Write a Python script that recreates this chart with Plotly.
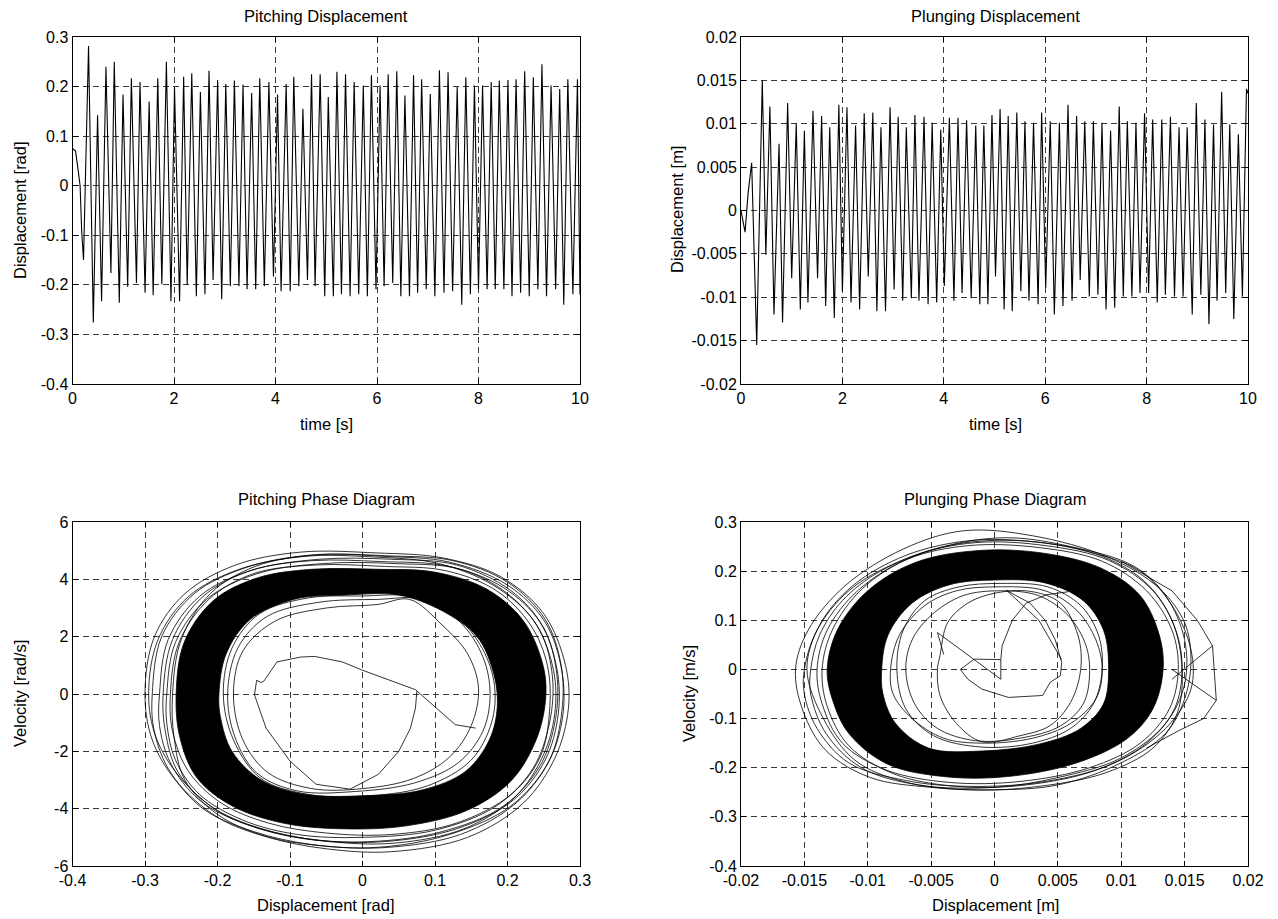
import plotly.graph_objects as go

# ---------------- time series: alternating extrema ----------------
pitch_t = [0.00, 0.06, 0.10, 0.15, 0.18, 0.217, 0.316, 0.41, 0.494, 0.573, 0.659, 0.757, 0.823, 0.922,
           0.995, 1.087, 1.16, 1.26, 1.33, 1.43, 1.51, 1.59, 1.68, 1.76, 1.85, 1.94, 2.01, 2.11,
           2.19, 2.26, 2.35, 2.44, 2.52, 2.61, 2.69, 2.77, 2.86, 2.94, 3.02, 3.11, 3.19, 3.28,
           3.36, 3.44, 3.53, 3.61, 3.69, 3.78, 3.87, 3.96, 4.04, 4.11, 4.21, 4.29, 4.36, 4.46,
           4.54, 4.63, 4.71, 4.78, 4.88, 4.97, 5.04, 5.14, 5.21, 5.30, 5.38, 5.47, 5.55, 5.64,
           5.73, 5.81, 5.89, 5.98, 6.06, 6.14, 6.22, 6.31, 6.39, 6.47, 6.55, 6.64, 6.72, 6.80,
           6.88, 6.97, 7.05, 7.14, 7.23, 7.32, 7.40, 7.49, 7.58, 7.67, 7.75, 7.84, 7.92, 8.00,
           8.08, 8.17, 8.25, 8.33, 8.41, 8.50, 8.58, 8.66, 8.74, 8.83, 8.91, 9.00, 9.08, 9.17,
           9.25, 9.34, 9.43, 9.52, 9.60, 9.68, 9.76, 9.86, 9.95, 10.0]
pitch_disp = [0.075, 0.070, 0.040, 0.000, -0.090, -0.150, 0.282, -0.276, 0.142, -0.233, 0.240, -0.176, 0.250, -0.236,
              0.184, -0.204, 0.217, -0.196, 0.209, -0.216, 0.170, -0.221, 0.217, -0.199, 0.250, -0.233, 0.199, -0.233,
              0.220, -0.200, 0.227, -0.223, 0.189, -0.219, 0.232, -0.190, 0.213, -0.229, 0.205, -0.203, 0.212, -0.203,
              0.204, -0.209, 0.187, -0.209, 0.217, -0.203, 0.209, -0.183, 0.184, -0.213, 0.205, -0.213, 0.220, -0.203,
              0.155, -0.190, 0.225, -0.203, 0.225, -0.223, 0.179, -0.223, 0.230, -0.219, 0.225, -0.223, 0.209, -0.219,
              0.202, -0.223, 0.223, -0.209, 0.202, -0.203, 0.225, -0.196, 0.231, -0.223, 0.182, -0.223, 0.223, -0.216,
              0.215, -0.209, 0.185, -0.223, 0.233, -0.216, 0.229, -0.213, 0.199, -0.240, 0.219, -0.219, 0.202, -0.209,
              0.202, -0.209, 0.209, -0.209, 0.212, -0.209, 0.213, -0.223, 0.215, -0.216, 0.231, -0.223, 0.219, -0.209,
              0.245, -0.223, 0.202, -0.209, 0.195, -0.240, 0.215, -0.219, 0.215, -0.220]

plunge_t = [0.00, 0.08, 0.14, 0.21, 0.31, 0.42, 0.49, 0.57, 0.65, 0.75, 0.82, 0.92, 1.00, 1.09, 1.17, 1.25,
            1.32, 1.42, 1.51, 1.59, 1.67, 1.75, 1.84, 1.93, 2.00, 2.09, 2.17, 2.26, 2.34, 2.43, 2.51, 2.60,
            2.68, 2.76, 2.85, 2.94, 3.02, 3.10, 3.19, 3.26, 3.36, 3.43, 3.51, 3.61, 3.69, 3.77, 3.86, 3.94,
            4.01, 4.11, 4.20, 4.28, 4.36, 4.45, 4.54, 4.63, 4.71, 4.79, 4.87, 4.95, 5.02, 5.11, 5.19, 5.27,
            5.35, 5.44, 5.52, 5.60, 5.68, 5.77, 5.86, 5.93, 6.01, 6.10, 6.18, 6.28, 6.35, 6.45, 6.53, 6.62,
            6.69, 6.78, 6.87, 6.95, 7.04, 7.12, 7.20, 7.29, 7.37, 7.46, 7.54, 7.62, 7.71, 7.79, 7.87, 7.96,
            8.04, 8.12, 8.21, 8.30, 8.37, 8.47, 8.55, 8.64, 8.72, 8.80, 8.90, 8.98, 9.07, 9.15, 9.23, 9.32,
            9.39, 9.48, 9.56, 9.64, 9.72, 9.81, 9.89, 9.97, 10.0]
plunge_disp = [0.0000, -0.0025, 0.0020, 0.0055, -0.0155, 0.0150, -0.0051, 0.0120, -0.0120, 0.0077, -0.0129, 0.0124,
               -0.0078, 0.0100, -0.0114, 0.0092, -0.0106, 0.0115, -0.0078, 0.0109, -0.0110, 0.0096, -0.0124, 0.0122,
               -0.0093, 0.0119, -0.0106, 0.0098, -0.0114, 0.0112, -0.0076, 0.0113, -0.0116, 0.0096, -0.0116, 0.0119,
               -0.0091, 0.0108, -0.0104, 0.0096, -0.0101, 0.0110, -0.0104, 0.0108, -0.0108, 0.0101, -0.0106, 0.0093,
               -0.0087, 0.0107, -0.0104, 0.0107, -0.0095, 0.0104, -0.0101, 0.0098, -0.0108, 0.0098, -0.0108, 0.0110,
               -0.0076, 0.0117, -0.0114, 0.0109, -0.0116, 0.0113, -0.0093, 0.0103, -0.0104, 0.0101, -0.0108, 0.0113,
               -0.0089, 0.0103, -0.0120, 0.0101, -0.0110, 0.0122, -0.0104, 0.0109, -0.0080, 0.0103, -0.0099, 0.0103,
               -0.0097, 0.0101, -0.0114, 0.0092, -0.0112, 0.0120, -0.0099, 0.0103, -0.0099, 0.0101, -0.0095, 0.0112,
               -0.0095, 0.0105, -0.0106, 0.0105, -0.0097, 0.0108, -0.0099, 0.0096, -0.0099, 0.0096, -0.0120, 0.0124,
               -0.0097, 0.0105, -0.0131, 0.0099, -0.0104, 0.0137, -0.0095, 0.0099, -0.0125, 0.0088, -0.0099, 0.0140,
               0.0135]

# ---------------- pitching phase diagram (rad, rad/s) ----------------
pp_env1_x = [-0.300, -0.287, -0.245, -0.175, -0.085, 0.020, 0.110, 0.190, 0.250, 0.280, 0.284, 0.266, 0.222, 0.145, 0.040, -0.050, -0.130, -0.200, -0.258, -0.290, -0.300]
pp_env1_y = [0.0, 2.0, 3.5, 4.5, 4.95, 4.92, 4.75, 4.10, 2.80, 1.00, -0.50, -2.20, -3.80, -5.00, -5.50, -5.40, -5.00, -4.30, -3.00, -1.60, 0.0]
pp_env2_x = [-0.290, -0.277, -0.232, -0.162, -0.070, 0.030, 0.120, 0.200, 0.252, 0.275, 0.276, 0.256, 0.205, 0.120, 0.020, -0.070, -0.150, -0.220, -0.268, -0.288, -0.290]
pp_env2_y = [0.0, 2.0, 3.5, 4.4, 4.85, 4.80, 4.60, 3.80, 2.50, 0.80, -0.80, -2.40, -3.90, -4.90, -5.35, -5.25, -4.80, -4.00, -2.60, -1.20, 0.0]
pp_env3_x = [-0.280, -0.268, -0.225, -0.155, -0.060, 0.040, 0.130, 0.205, 0.250, 0.268, 0.266, 0.245, 0.195, 0.110, 0.010, -0.080, -0.160, -0.225, -0.265, -0.280, -0.280]
pp_env3_y = [0.0, 1.9, 3.4, 4.3, 4.7, 4.70, 4.50, 3.60, 2.30, 0.70, -0.90, -2.50, -3.90, -4.80, -5.15, -5.05, -4.55, -3.70, -2.40, -1.10, 0.0]
pp_env4_x = [-0.270, -0.258, -0.215, -0.145, -0.055, 0.045, 0.135, 0.200, 0.245, 0.262, 0.258, 0.235, 0.185, 0.100, 0.000, -0.090, -0.165, -0.225, -0.258, -0.270, -0.270]
pp_env4_y = [0.0, 1.8, 3.3, 4.2, 4.55, 4.55, 4.35, 3.50, 2.20, 0.60, -1.00, -2.60, -3.90, -4.75, -5.00, -4.90, -4.40, -3.50, -2.30, -1.00, 0.0]
pp_env5_x = [-0.265, -0.253, -0.212, -0.150, -0.065, 0.030, 0.115, 0.185, 0.232, 0.255, 0.258, 0.245, 0.205, 0.130, 0.040, -0.050, -0.130, -0.195, -0.240, -0.262, -0.265]
pp_env5_y = [0.0, 1.8, 3.3, 4.2, 4.5, 4.45, 4.3, 3.6, 2.4, 1.0, -0.6, -2.2, -3.5, -4.5, -4.9, -4.85, -4.5, -3.8, -2.7, -1.3, 0.0]
pp_env6_x = [-0.275, -0.262, -0.220, -0.155, -0.070, 0.025, 0.120, 0.195, 0.245, 0.268, 0.270, 0.252, 0.208, 0.130, 0.030, -0.060, -0.140, -0.210, -0.255, -0.272, -0.275]
pp_env6_y = [0.0, 1.9, 3.4, 4.3, 4.65, 4.62, 4.45, 3.7, 2.5, 0.9, -0.7, -2.3, -3.7, -4.7, -5.15, -5.1, -4.7, -3.9, -2.7, -1.3, 0.0]
pp_env7_x = [-0.262, -0.250, -0.210, -0.148, -0.065, 0.035, 0.125, 0.200, 0.252, 0.274, 0.275, 0.258, 0.212, 0.135, 0.035, -0.055, -0.135, -0.200, -0.245, -0.260, -0.262]
pp_env7_y = [0.0, 1.9, 3.5, 4.45, 4.85, 4.82, 4.65, 3.9, 2.6, 1.0, -0.6, -2.3, -3.8, -4.9, -5.35, -5.3, -4.95, -4.2, -3.0, -1.5, 0.0]
pp_env8_x = [-0.295, -0.282, -0.240, -0.170, -0.080, 0.015, 0.105, 0.180, 0.235, 0.262, 0.266, 0.250, 0.210, 0.140, 0.045, -0.045, -0.125, -0.195, -0.252, -0.285, -0.295]
pp_env8_y = [0.0, 1.9, 3.4, 4.35, 4.8, 4.78, 4.55, 3.8, 2.6, 1.0, -0.5, -2.1, -3.6, -4.7, -5.2, -5.15, -4.8, -4.15, -2.9, -1.5, 0.0]
pp_band_out_x = [-0.257, -0.246, -0.206, -0.145, -0.070, 0.020, 0.100, 0.172, 0.222, 0.248, 0.253, 0.241, 0.206, 0.145, 0.060, -0.030, -0.110, -0.180, -0.229, -0.252, -0.257]
pp_band_out_y = [0.0, 1.8, 3.25, 4.05, 4.35, 4.35, 4.25, 3.65, 2.55, 1.1, 0.0, -1.5, -3.0, -4.05, -4.6, -4.7, -4.5, -3.9, -2.9, -1.50, 0.0]
pp_band_in_x = [-0.198, -0.188, -0.155, -0.095, -0.025, 0.050, 0.110, 0.158, 0.180, 0.186, 0.175, 0.142, 0.082, 0.000, -0.080, -0.140, -0.180, -0.196, -0.198]
pp_band_in_y = [0.0, 1.4, 2.6, 3.3, 3.45, 3.45, 2.9, 2.0, 0.8, -0.4, -1.6, -2.7, -3.35, -3.55, -3.5, -3.00, -2.00, -0.80, 0.0]
pp_in1_x = [-0.178, -0.165, -0.120, -0.050, 0.020, 0.065, 0.110, 0.145, 0.160, 0.150, 0.120, 0.070, 0.000, -0.070, -0.130, -0.165, -0.178]
pp_in1_y = [0.0, 1.5, 2.55, 3.0, 3.12, 3.3, 2.4, 1.4, 0.2, -1.1, -2.2, -2.95, -3.3, -3.3, -2.75, -1.6, 0.0]
pp_in2_x = [-0.186, -0.172, -0.132, -0.060, 0.020, 0.085, 0.135, 0.166, 0.176, 0.166, 0.132, 0.072, -0.010, -0.090, -0.146, -0.176, -0.186]
pp_in2_y = [0.0, 1.6, 2.7, 3.2, 3.3, 3.3, 2.5, 1.3, 0.0, -1.3, -2.4, -3.1, -3.4, -3.38, -2.75, -1.5, 0.0]
pp_in3_x = [-0.192, -0.180, -0.142, -0.075, 0.000, 0.070, 0.125, 0.165, 0.182, 0.178, 0.150, 0.090, 0.010, -0.075, -0.140, -0.178, -0.192]
pp_in3_y = [0.0, 1.6, 2.8, 3.35, 3.42, 3.4, 2.8, 1.6, 0.3, -1.0, -2.3, -3.2, -3.55, -3.5, -2.95, -1.6, 0.0]
pp_tr_x = [0.075, 0.073, 0.066, 0.050, 0.022, -0.017, -0.064, -0.100, -0.133, -0.149, -0.146, -0.140, -0.136, -0.118, -0.085, -0.066, -0.028, 0.000, 0.073, 0.128, 0.156]
pp_tr_y = [0.1, -0.5, -1.2, -2.0, -2.8, -3.32, -3.15, -2.34, -1.19, -0.03, 0.48, 0.40, 0.45, 1.12, 1.29, 1.31, 1.12, 0.83, 0.15, -1.07, -1.19]

# ---------------- plunging phase diagram (m, m/s) ----------------
pl_env1_x = [-0.0157, -0.0147, -0.0118, -0.0072, -0.0025, 0.0030, 0.0090, 0.0130, 0.0150, 0.0155, 0.0150, 0.0135, 0.0100, 0.0050, 0.0000, -0.0050, -0.0098, -0.0133, -0.0151, -0.0157]
pl_env1_y = [0.0, 0.08, 0.17, 0.245, 0.282, 0.272, 0.228, 0.165, 0.095, 0.02, -0.06, -0.13, -0.19, -0.235, -0.245, -0.24, -0.22, -0.165, -0.085, 0.0]
pl_env2_x = [-0.0150, -0.0140, -0.0115, -0.0075, -0.0030, 0.0020, 0.0070, 0.0115, 0.0140, 0.0155, 0.0155, 0.0135, 0.0095, 0.0040, -0.0020, -0.0070, -0.0115, -0.0140, -0.0150, -0.0150]
pl_env2_y = [0.0, 0.08, 0.16, 0.22, 0.255, 0.262, 0.242, 0.20, 0.13, 0.04, -0.04, -0.12, -0.19, -0.228, -0.238, -0.226, -0.19, -0.12, -0.05, 0.0]
pl_env3_x = [-0.0145, -0.0138, -0.0120, -0.0090, -0.0040, 0.0010, 0.0060, 0.0110, 0.0135, 0.0150, 0.0150, 0.0135, 0.0100, 0.0050, 0.0000, -0.0060, -0.0105, -0.0133, -0.0145, -0.0145]
pl_env3_y = [0.0, 0.07, 0.14, 0.20, 0.25, 0.268, 0.25, 0.21, 0.15, 0.06, -0.03, -0.11, -0.18, -0.22, -0.24, -0.235, -0.20, -0.13, -0.05, 0.0]
pl_env4_x = [-0.0140, -0.0132, -0.0108, -0.0068, -0.0020, 0.0035, 0.0085, 0.0120, 0.0140, 0.0145, 0.0138, 0.0115, 0.0075, 0.0020, -0.0035, -0.0085, -0.0120, -0.0136, -0.0140]
pl_env4_y = [0.0, 0.08, 0.16, 0.225, 0.252, 0.248, 0.22, 0.16, 0.08, 0.0, -0.08, -0.15, -0.20, -0.228, -0.23, -0.205, -0.15, -0.07, 0.0]
pl_env5_x = [-0.0136, -0.0128, -0.0104, -0.0064, -0.0015, 0.0040, 0.0090, 0.0125, 0.0143, 0.0148, 0.0142, 0.0120, 0.0080, 0.0025, -0.0030, -0.0080, -0.0115, -0.0132, -0.0136]
pl_env5_y = [0.0, 0.08, 0.165, 0.23, 0.258, 0.252, 0.222, 0.16, 0.08, 0.0, -0.08, -0.15, -0.205, -0.235, -0.238, -0.212, -0.155, -0.075, 0.0]
pl_env6_x = [-0.0148, -0.0138, -0.0112, -0.0070, -0.0020, 0.0030, 0.0080, 0.0118, 0.0140, 0.0148, 0.0144, 0.0125, 0.0088, 0.0035, -0.0020, -0.0072, -0.0110, -0.0135, -0.0148]
pl_env6_y = [0.0, 0.09, 0.17, 0.232, 0.262, 0.26, 0.235, 0.18, 0.10, 0.0, -0.09, -0.16, -0.21, -0.238, -0.245, -0.228, -0.185, -0.10, 0.0]
pl_kink_x = [0.0100, 0.0140, 0.0160, 0.0172, 0.0175, 0.0165, 0.0145, 0.0120, None, 0.0172, 0.0140, None, 0.0175, 0.0140]
pl_kink_y = [0.220, 0.16, 0.10, 0.048, -0.063, -0.10, -0.125, -0.16, None, 0.048, -0.02, None, -0.063, 0.0]
pl_band_out_x = [-0.0132, -0.0124, -0.0100, -0.0062, -0.0012, 0.0040, 0.0085, 0.0115, 0.0130, 0.0133, 0.0125, 0.0105, 0.0065, 0.0010, -0.0040, -0.0085, -0.0115, -0.0128, -0.0132]
pl_band_out_y = [0.0, 0.08, 0.16, 0.218, 0.242, 0.236, 0.205, 0.15, 0.07, 0.0, -0.08, -0.14, -0.19, -0.218, -0.218, -0.192, -0.13, -0.06, 0.0]
pl_band_in_x = [-0.0089, -0.0084, -0.0065, -0.0036, 0.0000, 0.0040, 0.0070, 0.0086, 0.0090, 0.0086, 0.0068, 0.0035, -0.0010, -0.0052, -0.0078, -0.0088, -0.0089]
pl_band_in_y = [0.0, 0.07, 0.135, 0.172, 0.182, 0.176, 0.14, 0.08, 0.0, -0.07, -0.12, -0.152, -0.166, -0.16, -0.11, -0.05, 0.0]
pl_in1_x = [-0.0082, -0.0075, -0.0055, -0.0030, 0.0000, 0.0040, 0.0065, 0.0080, 0.0085, 0.0080, 0.0060, 0.0030, -0.0010, -0.0040, -0.0065, -0.0080, -0.0082]
pl_in1_y = [0.0, 0.07, 0.13, 0.16, 0.168, 0.16, 0.12, 0.06, 0.0, -0.06, -0.11, -0.14, -0.15, -0.14, -0.10, -0.05, 0.0]
pl_in2_x = [-0.0070, -0.0065, -0.0050, -0.0025, 0.0005, 0.0035, 0.0058, 0.0072, 0.0075, 0.0070, 0.0052, 0.0020, -0.0015, -0.0045, -0.0063, -0.0070]
pl_in2_y = [0.0, 0.06, 0.11, 0.15, 0.16, 0.15, 0.11, 0.05, -0.01, -0.07, -0.115, -0.14, -0.145, -0.12, -0.07, 0.0]
pl_in3_x = [-0.0045, -0.0043, -0.0037, -0.0021, 0.0000, 0.0028, 0.0052, 0.0066, 0.0068, 0.0060, 0.0044, 0.0020, -0.0010, -0.0030, -0.0043, -0.0045]
pl_in3_y = [0.0, 0.028, 0.095, 0.135, 0.155, 0.159, 0.135, 0.068, 0.0, -0.067, -0.114, -0.135, -0.147, -0.11, -0.053, 0.0]
pl_in4_x = [-0.0077, -0.0072, -0.0055, -0.0028, 0.0005, 0.0042, 0.0068, 0.0082, 0.0085, 0.0078, 0.0060, 0.0030, -0.0010, -0.0048, -0.0070, -0.0077]
pl_in4_y = [0.0, 0.08, 0.14, 0.168, 0.175, 0.168, 0.13, 0.07, 0.0, -0.07, -0.12, -0.15, -0.158, -0.135, -0.08, 0.0]
pl_tr_x = [0.0005, 0.0005, -0.0016, -0.0027, -0.0021, -0.0010, 0.0011, 0.0038, 0.0044, 0.0052, 0.0053, 0.0048, 0.0040, 0.0028, 0.0010,
           None, 0.0005, -0.0045, -0.0040, None, 0.0005, 0.0006, 0.0014, 0.0025, 0.0041, 0.0058, None, 0.0009, 0.0035, 0.0053]
pl_tr_y = [-0.02, 0.02, 0.021, 0.0, -0.02, -0.04, -0.057, -0.053, -0.026, -0.013, 0.014, 0.06, 0.10, 0.135, 0.16,
           None, -0.02, 0.075, 0.03, None, 0.02, 0.048, 0.10, 0.135, 0.152, 0.158, None, 0.162, 0.10, 0.02]

# tick labels
t_ticks = [0, 2, 4, 6, 8, 10]
pitch_ticks = [-0.4, -0.3, -0.2, -0.1, 0, 0.1, 0.2, 0.3]
pitch_ticklabels = ["-0.4", "-0.3", "-0.2", "-0.1", "0", "0.1", "0.2", "0.3"]
plunge_ticks = [-0.02, -0.015, -0.01, -0.005, 0, 0.005, 0.01, 0.015, 0.02]
plunge_ticklabels = ["-0.02", "-0.015", "-0.01", "-0.005", "0", "0.005", "0.01", "0.015", "0.02"]
vel_ticks = [-6, -4, -2, 0, 2, 4, 6]
vel_ticklabels = ["-6", "-4", "-2", "0", "2", "4", "6"]

FONT = "Liberation Sans, Arial, Helvetica, sans-serif"
W, H = 1278, 919
TICK_SIZE = 16
TEXT_SIZE = 16.5

fig = go.Figure()

def line(x, y, ax, width=1.0, **kw):
    xa, ya = ("x", "y") if ax == 1 else ("x%d" % ax, "y%d" % ax)
    fig.add_trace(go.Scatter(x=x, y=y, mode="lines", xaxis=xa, yaxis=ya,
                             line=dict(color="black", width=width), hoverinfo="skip", **kw))

# time histories
line(pitch_t, pitch_disp, 1, 1.1)
line(plunge_t, plunge_disp, 2, 1.1)

# pitching phase
for xs, ys in [(pp_env1_x, pp_env1_y), (pp_env2_x, pp_env2_y), (pp_env3_x, pp_env3_y), (pp_env4_x, pp_env4_y),
               (pp_env5_x, pp_env5_y), (pp_env6_x, pp_env6_y), (pp_env7_x, pp_env7_y), (pp_env8_x, pp_env8_y)]:
    line(xs, ys, 3, 0.8, line_shape="spline")
line(pp_band_out_x, pp_band_out_y, 3, 0.8, line_shape="spline")
line(pp_band_in_x, pp_band_in_y, 3, 0.8, line_shape="spline", fill="tonext", fillcolor="black")
for xs, ys in [(pp_in1_x, pp_in1_y), (pp_in2_x, pp_in2_y), (pp_in3_x, pp_in3_y)]:
    line(xs, ys, 3, 0.8, line_shape="spline")
line(pp_tr_x, pp_tr_y, 3, 0.8)

# plunging phase
for xs, ys in [(pl_env1_x, pl_env1_y), (pl_env2_x, pl_env2_y), (pl_env3_x, pl_env3_y), (pl_env4_x, pl_env4_y),
               (pl_env5_x, pl_env5_y), (pl_env6_x, pl_env6_y)]:
    line(xs, ys, 4, 0.8, line_shape="spline")
line(pl_kink_x, pl_kink_y, 4, 0.8)
line(pl_band_out_x, pl_band_out_y, 4, 0.8, line_shape="spline")
line(pl_band_in_x, pl_band_in_y, 4, 0.8, line_shape="spline", fill="tonext", fillcolor="black")
for xs, ys in [(pl_in1_x, pl_in1_y), (pl_in2_x, pl_in2_y), (pl_in3_x, pl_in3_y), (pl_in4_x, pl_in4_y)]:
    line(xs, ys, 4, 0.8, line_shape="spline")
line(pl_tr_x, pl_tr_y, 4, 0.8)

def px_x(p):
    return p / W

def px_y(p):
    return 1 - p / H

common = dict(showline=True, linecolor="black", linewidth=1, mirror="ticks", ticks="inside",
              ticklen=5, tickcolor="black", showgrid=True, gridcolor="#3a3a3a", gridwidth=1,
              griddash="6px,4px", zeroline=False, automargin=False,
              tickfont=dict(family=FONT, size=TICK_SIZE, color="black"))

L1, R1 = px_x(72.5), px_x(580)
L2, R2 = px_x(741), px_x(1248)
TOP = [px_y(384), px_y(37)]
BOT = [px_y(866), px_y(522)]

fig.update_layout(
    width=W, height=H, margin=dict(l=0, r=0, t=0, b=0, autoexpand=False),
    paper_bgcolor="white", plot_bgcolor="white", showlegend=False,
    font=dict(family=FONT, size=TICK_SIZE, color="black"),
    xaxis=dict(domain=[L1, R1], range=[0, 10], tickvals=t_ticks, anchor="y", **common),
    yaxis=dict(domain=TOP, range=[-0.4, 0.3], tickvals=pitch_ticks, ticktext=pitch_ticklabels, anchor="x", **common),
    xaxis2=dict(domain=[L2, R2], range=[0, 10], tickvals=t_ticks, anchor="y2", **common),
    yaxis2=dict(domain=TOP, range=[-0.02, 0.02], tickvals=plunge_ticks, ticktext=plunge_ticklabels, anchor="x2", **common),
    xaxis3=dict(domain=[L1, R1], range=[-0.4, 0.3], tickvals=pitch_ticks, ticktext=pitch_ticklabels, anchor="y3", **common),
    yaxis3=dict(domain=BOT, range=[-6, 6], tickvals=vel_ticks, ticktext=vel_ticklabels, anchor="x3", **common),
    xaxis4=dict(domain=[L2, R2], range=[-0.02, 0.02], tickvals=plunge_ticks, ticktext=plunge_ticklabels, anchor="y4", **common),
    yaxis4=dict(domain=BOT, range=[-0.4, 0.3], tickvals=pitch_ticks, ticktext=pitch_ticklabels, anchor="x4", **common),
)

def label(text, x, y, angle=0):
    fig.add_annotation(text=text, x=px_x(x), y=px_y(y), xref="paper", yref="paper",
                       showarrow=False, xanchor="center", yanchor="middle", textangle=angle,
                       font=dict(family=FONT, size=TEXT_SIZE, color="black"))

label("Pitching Displacement", 326, 16)
label("Plunging Displacement", 995, 16)
label("Pitching Phase Diagram", 326, 499)
label("Plunging Phase Diagram", 995, 499)
label("time [s]", 326, 424)
label("time [s]", 995, 424)
label("Displacement [rad]", 326, 905)
label("Displacement [m]", 995, 905)
label("Displacement [rad]", 20, 210, -90)
label("Displacement [m]", 677, 210, -90)
label("Velocity [rad/s]", 20, 694, -90)
label("Velocity [m/s]", 689, 694, -90)

fig.write_html("out.html")
